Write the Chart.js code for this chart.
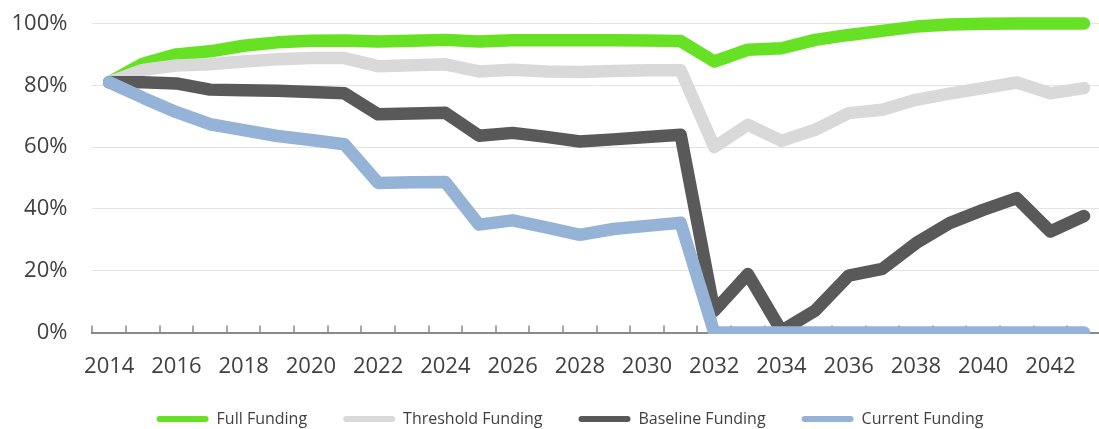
<!DOCTYPE html>
<html>
<head>
<meta charset="utf-8">
<script src="https://cdn.jsdelivr.net/npm/chart.js@4/dist/chart.umd.min.js"></script>
<style>
  html, body { margin: 0; padding: 0; background: #fff; overflow: hidden; }
  .wrap { width: 1105px; height: 437px; position: relative; }
</style>
</head>
<body>
<div class="wrap"><canvas id="myChart"></canvas></div>
<script>
// data (percent)
const years = ['2014', '2015', '2016', '2017', '2018', '2019', '2020', '2021', '2022', '2023',
    '2024', '2025', '2026', '2027', '2028', '2029', '2030', '2031', '2032', '2033',
    '2034', '2035', '2036', '2037', '2038', '2039', '2040', '2041', '2042', '2043']
const fullFunding = [81, 87, 90, 91, 92.8, 93.9, 94.4, 94.5, 94.2, 94.4,
    94.7, 94.2, 94.6, 94.6, 94.6, 94.6, 94.5, 94.3, 87.7, 91.5,
    92, 94.7, 96.3, 97.6, 99, 99.7, 99.9, 100, 100, 100]
const thresholdFunding = [81, 85, 86.4, 86.8, 87.7, 88.4, 88.8, 88.8, 86.2, 86.5,
    86.8, 84.5, 85, 84.5, 84.3, 84.6, 84.9, 84.9, 60, 67.2,
    62, 65.6, 71, 72.1, 75.3, 77.3, 79.1, 80.9, 77.4, 79.1]
const baselineFunding = [81, 81, 80.6, 78.6, 78.4, 78.2, 77.8, 77.4, 70.6, 70.9,
    71.1, 63.7, 64.6, 63.3, 61.8, 62.5, 63.3, 64, 7, 18.9,
    0.5, 7.1, 18.4, 20.6, 28.9, 35.4, 39.7, 43.5, 32.7, 37.7]
const currentFunding = [81, 76, 71.3, 67.4, 65.5, 63.6, 62.3, 60.9, 48.4, 48.6,
    48.7, 34.9, 36.3, 34, 31.6, 33.5, 34.5, 35.5, 0, 0,
    0, 0, 0, 0, 0, 0, 0, 0, 0, 0]
const yTicks = [0, 20, 40, 60, 80, 100]

const axisColor = '#898989'
const textColor = '#404040'

function line(label, values, color, order) {
    return {
        label: label,
        data: values,
        borderColor: color,
        backgroundColor: color,
        borderWidth: 12.5,
        borderJoinStyle: 'round',
        borderCapStyle: 'round',
        pointRadius: 0,
        pointHoverRadius: 0,
        tension: 0,
        order: order,
        clip: { left: false, top: false, right: false, bottom: 1.5 }
    }
}

// little ticks pointing up from the axis, between categories
const tickMarks = {
    id: 'tickMarks',
    beforeDatasetsDraw(chart) {
        const x = chart.scales.x
        const ctx = chart.ctx
        const step = x.getPixelForValue(1) - x.getPixelForValue(0)
        ctx.save()
        ctx.strokeStyle = axisColor
        ctx.lineWidth = 1.5
        ctx.beginPath()
        for (let i = 0; i <= years.length; i++) {
            const px = Math.round(x.getPixelForValue(i) - step / 2)
            ctx.moveTo(px, x.top)
            ctx.lineTo(px, x.top - 7)
        }
        ctx.stroke()
        ctx.restore()
    }
}

// legend sits a bit right of the canvas centre
const legendShift = {
    id: 'legendShift',
    afterLayout(chart) {
        chart.legend.left += 35
    }
}

const data = {
    labels: years,
    datasets: [
        line('Full Funding', fullFunding, '#66e124', 4),
        line('Threshold Funding', thresholdFunding, '#d9d9d9', 3),
        line('Baseline Funding', baselineFunding, '#595959', 2),
        line('Current Funding', currentFunding, '#95b3d7', 1)
    ]
}

const config = {
    type: 'line',
    data: data,
    plugins: [tickMarks, legendShift],
    options: {
        responsive: true,
        maintainAspectRatio: false,
        animation: false,
        layout: { padding: { left: 0, right: 0, top: 23.5, bottom: 0 } },
        scales: {
            x: {
                offset: true,
                grid: { display: false, drawTicks: false },
                border: { display: true, color: axisColor, width: 2 },
                ticks: {
                    autoSkip: false,
                    maxRotation: 0,
                    padding: 21,
                    color: textColor,
                    font: { family: 'Open Sans', size: 22 },
                    callback: function (v, i) { return i % 2 === 0 ? years[i] : '' }
                },
                afterFit: function (s) { s.height = 42.5 }
            },
            y: {
                min: 0,
                max: 100,
                afterBuildTicks: function (s) { s.ticks = yTicks.map(v => ({ value: v })) },
                grid: { color: '#e3e3e3', lineWidth: 1, drawTicks: false },
                border: { display: false },
                ticks: {
                    padding: 25,
                    color: textColor,
                    font: { family: 'Open Sans', size: 22 },
                    callback: function (v) { return v + '%' }
                },
                afterFit: function (s) {
                    s.width = 92.4
                    s.paddingTop = 0
                    s.paddingBottom = 0
                }
            }
        },
        plugins: {
            tooltip: { enabled: false },
            legend: {
                position: 'bottom',
                labels: {
                    boxWidth: 52,
                    boxHeight: 6,
                    padding: 36,
                    color: textColor,
                    font: { family: 'Open Sans', size: 16 },
                    useBorderRadius: true,
                    borderRadius: 3,
                    sort: (a, b) => a.datasetIndex - b.datasetIndex,
                    generateLabels: function (chart) {
                        const items = Chart.defaults.plugins.legend.labels.generateLabels(chart)
                        items.forEach(it => { it.lineWidth = 0 })
                        return items
                    }
                }
            }
        }
    }
}

const myChart = new Chart(document.getElementById('myChart'), config)
</script>
</body>
</html>
